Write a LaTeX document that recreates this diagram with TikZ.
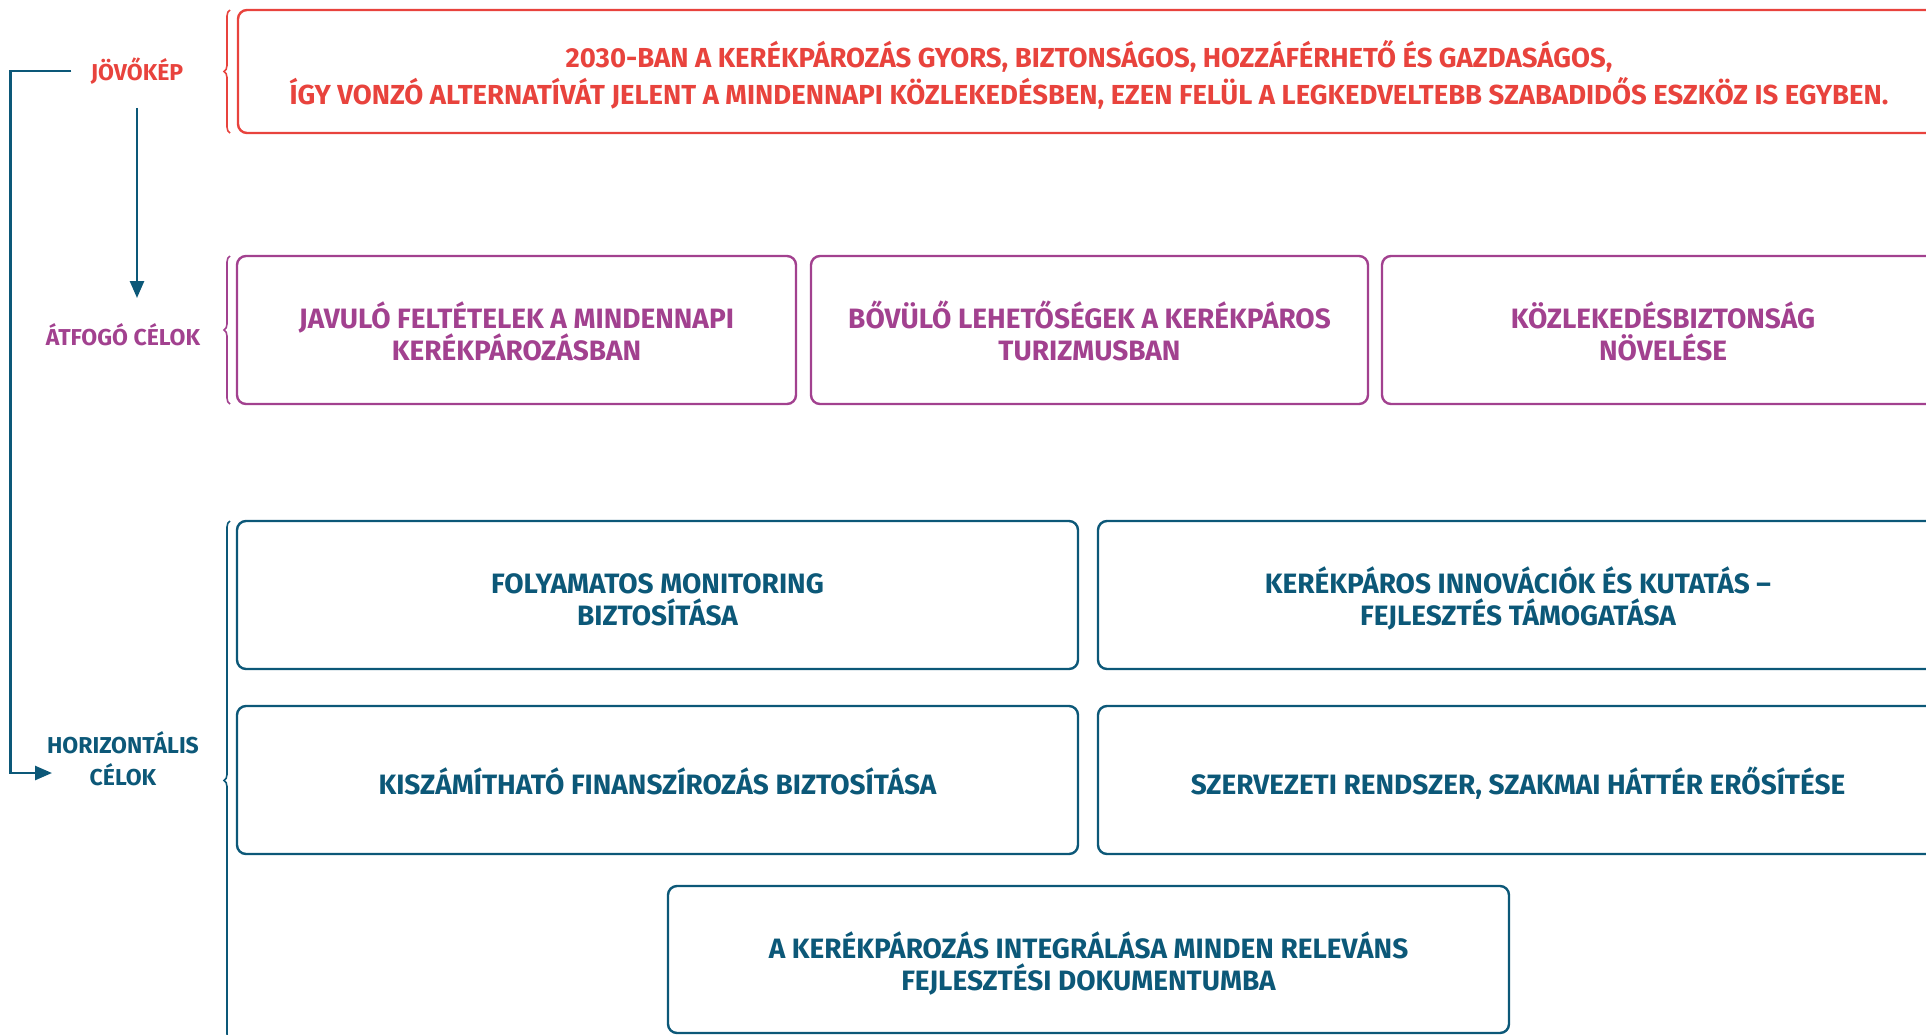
\documentclass[tikz,border=0pt]{standalone}
\usepackage{fontspec}
\setmainfont{Fira Sans}
\usetikzlibrary{arrows.meta,decorations.pathreplacing}
\definecolor{visionred}{HTML}{E8433D}
\definecolor{goalpurple}{HTML}{A2418F}
\definecolor{horblue}{HTML}{0C5878}
\tikzset{
  goalbox/.style={draw, line width=2.4pt, rounded corners=9pt, align=center,
    inner sep=0pt, font=\fontsize{28}{32}\selectfont\bfseries,
    text height=61pt, text depth=0pt},
  oneline/.style={text height=29pt},
  sidelabel/.style={align=center, font=\fontsize{23}{32}\selectfont\bfseries},
  curly/.style={line width=1.6pt, decorate, decoration={brace, amplitude=6pt}},
  flow/.style={horblue, line width=2.6pt, -{Triangle[width=14pt,length=17pt]}},
}
\begin{document}
\begin{tikzpicture}[x=1pt,y=1pt]
        \useasboundingbox (0,0) rectangle (1926,-1034) ;
        %\draw[very thin,gray,step=50] (0,0) grid (1926,-1034) ;
        % jovokep
        \node[goalbox, visionred, minimum width=1702pt, minimum height=123pt, text height=66pt,
          font=\fontsize{27.5}{37}\selectfont\bfseries] (vision) at (1089,-71.5)
        {2030-BAN A KERÉKPÁROZÁS GYORS, BIZTONSÁGOS, HOZZÁFÉRHETŐ ÉS GAZDASÁGOS,\\
         ÍGY VONZÓ ALTERNATÍVÁT JELENT A MINDENNAPI KÖZLEKEDÉSBEN, EZEN FELÜL A LEGKEDVELTEBB SZABADIDŐS ESZKÖZ IS EGYBEN.} ;
        \draw[curly, visionred] (230,-133) -- (230,-10) ;
        \node[sidelabel, visionred] (jovo) at (137,-71) {JÖVŐKÉP} ;
        % atfogo celok
        \node[goalbox, goalpurple, minimum width=559pt, minimum height=148pt] (goalA) at (516.5,-330)
        {JAVULÓ FELTÉTELEK A MINDENNAPI\\KERÉKPÁROZÁSBAN} ;
        \node[goalbox, goalpurple, minimum width=557pt, minimum height=148pt] (goalB) at (1089.5,-330)
        {BŐVÜLŐ LEHETŐSÉGEK A KERÉKPÁROS\\TURIZMUSBAN} ;
        \node[goalbox, goalpurple, minimum width=562pt, minimum height=148pt] (goalC) at (1663,-330)
        {KÖZLEKEDÉSBIZTONSÁG\\NÖVELÉSE} ;
        \draw[curly, goalpurple] (230,-404) -- (230,-256) ;
        \node[sidelabel, goalpurple] (atfogo) at (123,-335) {ÁTFOGÓ CÉLOK} ;
        % horizontalis celok
        \node[goalbox, horblue, minimum width=841pt, minimum height=148pt] (horA) at (657.5,-595)
        {FOLYAMATOS MONITORING\\BIZTOSÍTÁSA} ;
        \node[goalbox, horblue, minimum width=840pt, minimum height=148pt] (horB) at (1518,-595)
        {KERÉKPÁROS INNOVÁCIÓK ÉS KUTATÁS –\\FEJLESZTÉS TÁMOGATÁSA} ;
        \node[goalbox, oneline, horblue, minimum width=841pt, minimum height=148pt] (horC) at (657.5,-780)
        {KISZÁMÍTHATÓ FINANSZÍROZÁS BIZTOSÍTÁSA} ;
        \node[goalbox, oneline, horblue, minimum width=840pt, minimum height=148pt] (horD) at (1518,-780)
        {SZERVEZETI RENDSZER, SZAKMAI HÁTTÉR ERŐSÍTÉSE} ;
        \node[goalbox, horblue, minimum width=841pt, minimum height=147pt] (horE) at (1088.5,-959.5)
        {A KERÉKPÁROZÁS INTEGRÁLÁSA MINDEN RELEVÁNS\\FEJLESZTÉSI DOKUMENTUMBA} ;
        \draw[curly, horblue] (230,-1040) -- (230,-521) ;
        \node[sidelabel, horblue] (horiz) at (123,-759) {HORIZONTÁLIS\\CÉLOK} ;
        % nyilak
        \coordinate (atfin) at (137,-298) ;
        \coordinate (horin) at (52,-773) ;
        \draw[flow] ([yshift=-20pt]jovo.south) -- (atfin) ;
        \draw[flow] ([xshift=-16pt]jovo.west) -- ++(-61,0) |- (horin) ;
\end{tikzpicture}
\end{document}
